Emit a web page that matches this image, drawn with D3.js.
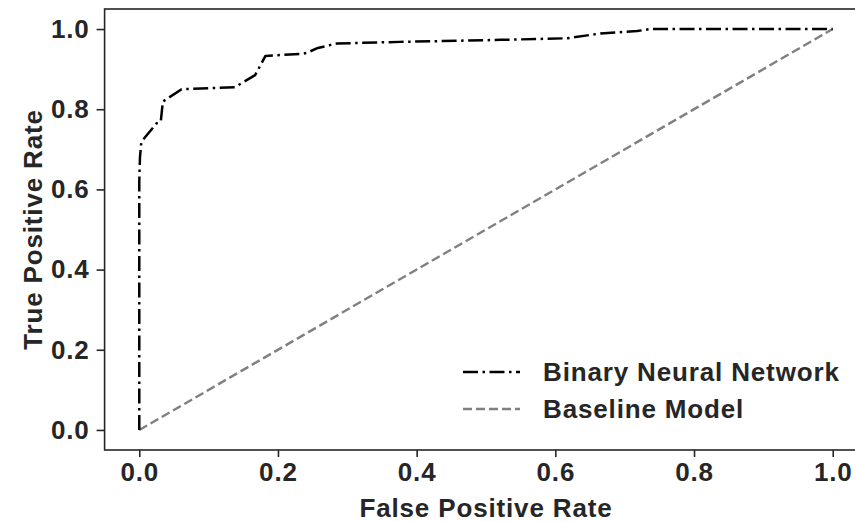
<!DOCTYPE html>
<html>
<head>
<meta charset="utf-8">
<script src="https://cdn.jsdelivr.net/npm/d3@7"></script>
<style>
  html, body { margin: 0; padding: 0; background: #fff; }
  svg { display: block; }
  text { font-family: "Liberation Sans", Arial, sans-serif; font-weight: bold; fill: #262626; letter-spacing: 0.85px; }
</style>
</head>
<body>
<svg id="chart" width="855" height="522"></svg>
<script>
// ROC curve of the Binary Neural Network
const fpr = [0.000, 0.000, 0.001, 0.003, 0.025, 0.031, 0.034, 0.061, 0.138, 0.167, 0.182, 0.232, 0.241, 0.256, 0.285, 0.376, 0.521, 0.617, 0.665, 0.718, 0.737, 1.000];
const tpr = [0.000, 0.620, 0.680, 0.719, 0.765, 0.769, 0.819, 0.850, 0.855, 0.885, 0.933, 0.938, 0.940, 0.952, 0.964, 0.968, 0.973, 0.977, 0.989, 0.995, 1.000, 1.000];
// Baseline (random) model
const baseX = [0, 1];
const baseY = [0, 1];
const xTicks = [0.0, 0.2, 0.4, 0.6, 0.8, 1.0];
const yTicks = [0.0, 0.2, 0.4, 0.6, 0.8, 1.0];
const seriesNames = ["Binary Neural Network", "Baseline Model"];

const svg = d3.select("#chart");
const x = d3.scaleLinear().domain([-0.05, 1.05]).range([104.6, 867.4]);
const y = d3.scaleLinear().domain([-0.05, 1.05]).range([450, 9]);

const axisColor = "#262626";
const fontSize = 26;

// Spines
const g = svg.append("g");
g.append("rect")
  .attr("x", x(-0.05)).attr("y", y(1.05))
  .attr("width", x(1.05) - x(-0.05)).attr("height", y(-0.05) - y(1.05))
  .attr("fill", "none").attr("stroke", axisColor).attr("stroke-width", 1.6);

// X axis
const xAxis = d3.axisBottom(x).tickValues(xTicks).tickFormat(d3.format(".1f")).tickSize(7).tickPadding(6);
const xa = svg.append("g").attr("transform", `translate(0,${y(-0.05)})`).call(xAxis);
xa.select(".domain").remove();
xa.selectAll(".tick line").attr("stroke", axisColor).attr("stroke-width", 1.6);
xa.selectAll(".tick text").attr("font-size", fontSize).attr("fill", axisColor)
  .style("font-family", '"Liberation Sans", Arial, sans-serif').style("font-weight", "bold");

// Y axis
const yAxis = d3.axisLeft(y).tickValues(yTicks).tickFormat(d3.format(".1f")).tickSize(8).tickPadding(7);
const ya = svg.append("g").attr("transform", `translate(${x(-0.05)},0)`).call(yAxis);
ya.select(".domain").remove();
ya.selectAll(".tick line").attr("stroke", axisColor).attr("stroke-width", 1.6);
ya.selectAll(".tick text").attr("font-size", fontSize).attr("fill", axisColor)
  .style("font-family", '"Liberation Sans", Arial, sans-serif').style("font-weight", "bold");

// Axis labels
svg.append("text").attr("x", (x(0) + x(1)) / 2).attr("y", 517)
  .attr("text-anchor", "middle").attr("font-size", fontSize).text("False Positive Rate");
svg.append("text")
  .attr("transform", `translate(42,${(y(0) + y(1)) / 2}) rotate(-90)`)
  .attr("text-anchor", "middle").attr("font-size", fontSize).text("True Positive Rate");

// Lines
const line = d3.line().x(d => x(d[0])).y(d => y(d[1]));
const baseData = baseX.map((v, i) => [v, baseY[i]]);
const rocData = fpr.map((v, i) => [v, tpr[i]]);

svg.append("path").datum(baseData).attr("d", line)
  .attr("fill", "none").attr("stroke", "#808080").attr("stroke-width", 2.4)
  .attr("stroke-dasharray", "9,4");

svg.append("path").datum(rocData).attr("d", line)
  .attr("fill", "none").attr("stroke", "#000").attr("stroke-width", 2.5)
  .attr("stroke-dasharray", "15,4.5,2.5,4.5").attr("stroke-linejoin", "round");

// Legend
const legend = svg.append("g");
const styles = [
  { stroke: "#000", dash: "15,4.5,2.5,4.5", w: 2.5 },
  { stroke: "#808080", dash: "9,4", w: 2.4 }
];
seriesNames.forEach((name, i) => {
  const cy = 372 + i * 37;
  legend.append("line").attr("x1", 463).attr("x2", 520).attr("y1", cy).attr("y2", cy)
    .attr("stroke", styles[i].stroke).attr("stroke-width", styles[i].w)
    .attr("stroke-dasharray", styles[i].dash);
  legend.append("text").attr("x", 543).attr("y", cy + 9).attr("font-size", fontSize).text(name);
});
</script>
</body>
</html>
